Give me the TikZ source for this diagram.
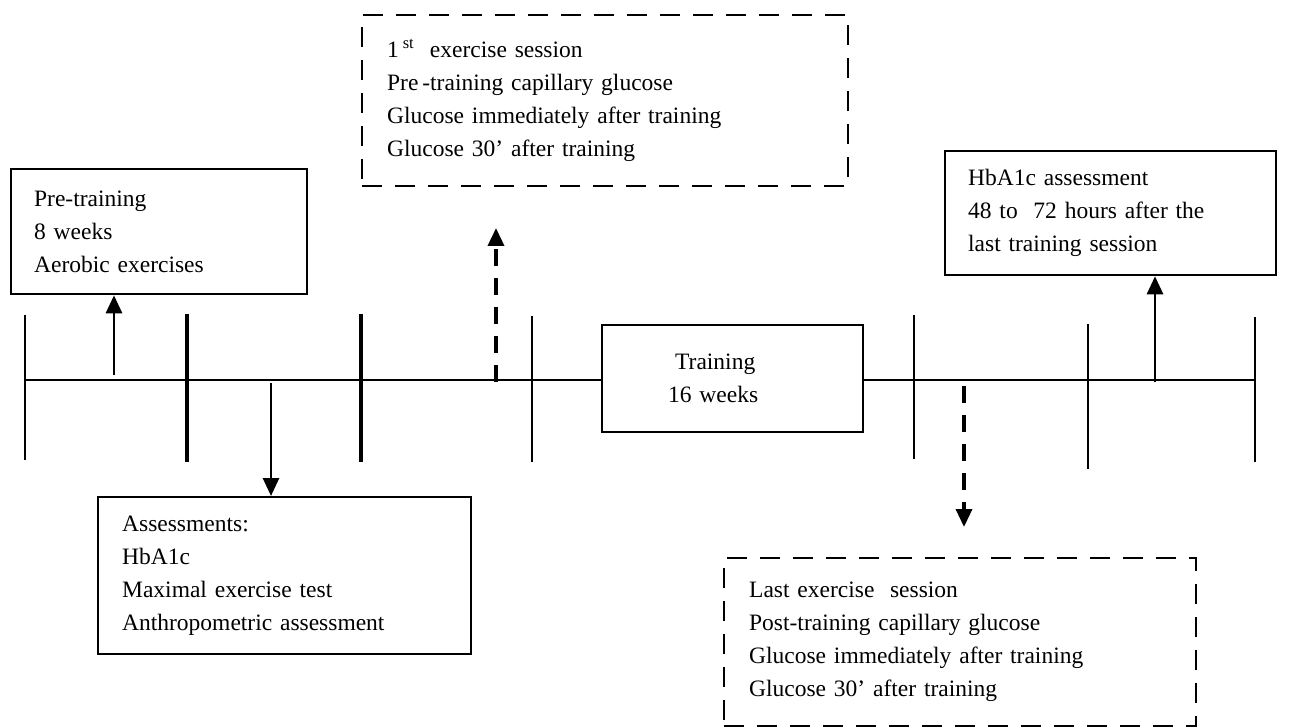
\documentclass[tikz,border=0pt]{standalone}
\usepackage{fontspec}
\setmainfont{Liberation Serif}
\usetikzlibrary{arrows.meta}
\begin{document}
\begin{tikzpicture}[x=1pt,y=-1pt,
  every node/.style={font=\fontsize{23.5}{33}\selectfont},
  solidbox/.style={draw, line width=2.3pt, align=left, inner ysep=0pt},
  dashbox/.style={draw, line width=2.3pt, align=left, inner ysep=0pt, dash pattern=on 20pt off 13pt},
  tickthin/.style={line width=2.3pt},
  tickthick/.style={line width=3.5pt},
  axis/.style={line width=2.8pt},
  uparrow/.style={line width=2.8pt, -{Triangle[width=16pt,length=18pt]}},
  dasharrow/.style={line width=3.5pt, dash pattern=on 17pt off 12pt, -{Triangle[width=16pt,length=18pt]}}
]
\useasboundingbox (0,0) rectangle (1300,727);

% boxes
\node[solidbox, anchor=north west, minimum width=296pt, minimum height=125pt, text width=250pt, inner xsep=23pt] (pre) at (10,168)
  {Pre-training\\8 weeks\\Aerobic exercises};
\node[solidbox, anchor=north west, minimum width=373pt, minimum height=157pt, text width=325pt, inner xsep=24pt] (assess) at (97,496)
  {Assessments:\\HbA1c\\Maximal exercise test\\Anthropometric assessment};
\node[dashbox, anchor=north west, minimum width=486pt, minimum height=171pt, text width=436pt, inner xsep=25pt] (first) at (361,14)
  {1\,\textsuperscript{st}\ \ exercise session\\Pre\,-training capillary glucose\\Glucose immediately after training\\Glucose 30’ after training};
\node[solidbox, anchor=north west, minimum width=261pt, minimum height=107pt, text width=129pt, inner xsep=66pt] (train) at (601,324)
  {\hspace*{7pt}Training\\16 weeks};
\node[solidbox, anchor=north west, minimum width=331pt, minimum height=124pt, text width=285pt, inner xsep=23pt] (hb) at (944,150)
  {HbA1c assessment\\48 to\ \ 72 hours after the\\last training session};
\node[dashbox, anchor=north west, minimum width=472pt, minimum height=168pt, text width=422pt, inner xsep=25pt] (last) at (723,557)
  {Last exercise\ \ session\\Post-training capillary glucose\\Glucose immediately after training\\Glucose 30’ after training};

% timeline
\coordinate (tl0) at (25,380);
\coordinate (tl1) at (1255,380);
\draw[axis] (tl0) -- (tl0 -| train.west);
\draw[axis] (tl0 -| train.east) -- (tl1);

% ticks
\draw[tickthin]  (25,315) -- (25,460);
\draw[tickthick] (187,314) -- (187,462);
\draw[tickthick] (361,314) -- (361,462);
\draw[tickthin]  (532,316) -- (532,462);
\draw[tickthin]  (914,315) -- (914,459);
\draw[tickthin]  (1088,324) -- (1088,469);
\draw[tickthin]  (1255,317) -- (1255,462);

% arrows
\coordinate (a1) at (114,375);
\draw[uparrow] (a1) -- (a1 |- pre.south);
\coordinate (a2) at (271,383);
\draw[uparrow] (a2) -- (a2 |- assess.north);
\coordinate (a3) at (496,382);
\coordinate (a3e) at (496,228);
\draw[dasharrow] (a3) -- (a3e);
\coordinate (a4) at (964,386);
\coordinate (a4e) at (964,527);
\draw[dasharrow] (a4) -- (a4e);
\coordinate (a5) at (1155,382);
\draw[uparrow] (a5) -- (a5 |- hb.south);
\end{tikzpicture}
\end{document}
